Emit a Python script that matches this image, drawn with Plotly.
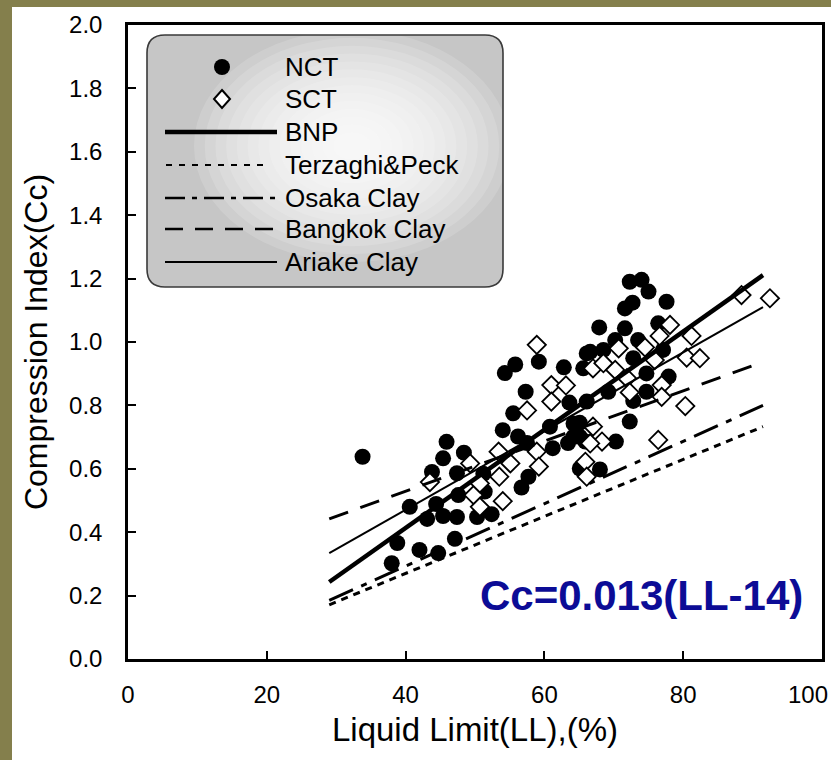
import plotly.graph_objects as go

# ---------------- data ----------------
nct_ll = [33.8, 38.0, 38.8, 40.6, 42.0, 43.1, 43.8, 44.7, 45.4, 45.9, 45.4, 44.4, 47.1, 47.4,
          47.4, 47.6, 48.4, 50.3, 51.2, 51.4, 52.4, 54.0, 54.3, 55.8, 55.5, 56.2, 56.7, 57.3,
          57.5, 57.7, 59.2, 60.8, 61.2, 62.8, 63.6, 64.2, 64.2, 65.1, 68.0, 66.1, 65.6, 66.6,
          67.9, 68.5, 69.2, 70.2, 70.3, 71.6, 71.6, 72.7, 72.3, 74.0, 75.0, 77.6, 72.3, 72.8,
          72.8, 73.5, 74.7, 74.7, 76.4, 77.9, 77.1, 66.1, 65.1, 65.9, 63.4, 65.1]
nct_cc = [0.638, 0.302, 0.366, 0.480, 0.344, 0.442, 0.590, 0.334, 0.633, 0.685, 0.451, 0.489,
          0.379, 0.448, 0.586, 0.517, 0.651, 0.448, 0.584, 0.528, 0.457, 0.722, 0.902, 0.929,
          0.775, 0.702, 0.541, 0.843, 0.681, 0.575, 0.938, 0.733, 0.665, 0.920, 0.809, 0.743,
          0.701, 0.601, 0.598, 0.964, 0.917, 0.969, 1.046, 0.975, 0.843, 1.006, 0.686, 1.043,
          1.106, 1.124, 1.190, 1.196, 1.159, 1.127, 0.749, 0.814, 0.949, 1.006, 0.901, 0.843,
          1.059, 0.891, 0.975, 0.812, 0.745, 0.686, 0.681, 0.701]

sct_ll = [43.5, 49.3, 49.8, 50.7, 50.7, 53.4, 53.5, 54.0, 55.1, 57.5, 58.9, 58.9, 59.2, 61.0,
          61.0, 63.1, 67.0, 68.5, 70.2, 70.7, 71.9, 72.3, 74.5, 75.9, 76.6, 76.9, 76.9, 78.1,
          80.5, 81.2, 82.4, 80.3, 76.4, 67.0, 68.3, 66.6, 65.9, 66.1, 88.4, 92.5]
sct_cc = [0.558, 0.617, 0.517, 0.554, 0.480, 0.654, 0.575, 0.498, 0.617, 0.784, 0.991, 0.654,
          0.607, 0.864, 0.812, 0.863, 0.917, 0.933, 0.912, 0.980, 0.886, 0.841, 0.983, 0.943,
          1.019, 0.864, 0.827, 1.054, 0.951, 1.019, 0.949, 0.798, 0.691, 0.733, 0.686, 0.680,
          0.622, 0.575, 1.148, 1.138]

line_ll = [29.0, 91.5]
bnp_cc = [0.243, 1.211]
terzaghi_cc = [0.171, 0.733]
osaka_cc = [0.185, 0.800]
bangkok_cc = [0.442, 0.937]
ariake_cc = [0.334, 1.110]

x_ticks = [0, 20, 40, 60, 80, 100]
y_ticks = [0.0, 0.2, 0.4, 0.6, 0.8, 1.0, 1.2, 1.4, 1.6, 1.8, 2.0]

legend_names = ["NCT", "SCT", "BNP", "Terzaghi&Peck", "Osaka Clay", "Bangkok Clay", "Ariake Clay"]

# ---------------- layout helpers ----------------
W, H = 831, 760
ML, MR, MT, MB = 128, 9, 25, 101
PW = W - ML - MR
PH = H - MT - MB


def px(x):
    return (x - ML) / PW


def py(y):
    return (H - MB - y) / PH


FONT = "Liberation Sans, Arial, sans-serif"

fig = go.Figure()

fig.add_trace(go.Scatter(x=nct_ll, y=nct_cc, mode="markers", name="NCT", showlegend=False,
                         marker=dict(symbol="circle", size=16, color="black")))
fig.add_trace(go.Scatter(x=sct_ll, y=sct_cc, mode="markers", name="SCT", showlegend=False,
                         marker=dict(symbol="diamond", size=14, color="white",
                                     line=dict(color="black", width=1.8))))

line_styles = [
    ("BNP", bnp_cc, dict(color="black", width=4.5)),
    ("Terzaghi&Peck", terzaghi_cc, dict(color="black", width=3, dash="7px,6px")),
    ("Osaka Clay", osaka_cc, dict(color="black", width=3, dash="26px,9px,6px,9px")),
    ("Bangkok Clay", bangkok_cc, dict(color="black", width=3, dash="20px,13px")),
    ("Ariake Clay", ariake_cc, dict(color="black", width=2)),
]
for nm, cc, ln in line_styles:
    fig.add_trace(go.Scatter(x=line_ll, y=cc, mode="lines", name=nm, showlegend=False, line=ln))

shapes = []
# white panel on olive background
shapes.append(dict(type="rect", xref="paper", yref="paper", layer="below",
                   x0=px(12), x1=px(840), y0=py(770), y1=py(7),
                   fillcolor="white", line=dict(width=0)))

# legend box (rounded, shaded)
bx0, bx1, by0, by1, r = 147, 503, 35, 287, 18


def rpath(x0, x1, y0, y1, r):
    return ("M{a},{b} L{c},{b} Q{x1},{b} {x1},{d} L{x1},{e} Q{x1},{f} {c},{f} "
            "L{a},{f} Q{x0},{f} {x0},{e} L{x0},{d} Q{x0},{b} {a},{b} Z").format(
        a=px(x0 + r), b=py(y0), c=px(x1 - r), x1=px(x1), d=py(y0 + r), e=py(y1 - r),
        f=py(y1), x0=px(x0))


shapes.append(dict(type="path", xref="paper", yref="paper", path=rpath(bx0, bx1, by0, by1, r),
                   fillcolor="#c6c6c6", line=dict(width=0)))
cx, cy = 352, 146
n_rings = 14
for i in range(n_rings):
    f = 1 - i / n_rings
    rx, ry = 150 * f + 8, 110 * f + 6
    shapes.append(dict(type="circle", xref="paper", yref="paper",
                       x0=px(cx - rx), x1=px(cx + rx), y0=py(cy + ry), y1=py(cy - ry),
                       fillcolor="white", opacity=0.15, line=dict(width=0)))
shapes.append(dict(type="path", xref="paper", yref="paper", path=rpath(bx0, bx1, by0, by1, r),
                   fillcolor="rgba(0,0,0,0)", line=dict(color="#3a3a3a", width=1.6)))

# legend samples
ly = [67, 99, 132, 165, 198, 229, 262]
shapes.append(dict(type="circle", xref="paper", yref="paper",
                   x0=px(214), x1=px(230), y0=py(ly[0] + 8), y1=py(ly[0] - 8),
                   fillcolor="black", line=dict(width=0)))
dx, dyy = 222, ly[1]
shapes.append(dict(type="path", xref="paper", yref="paper",
                   path="M{},{} L{},{} L{},{} L{},{} Z".format(px(dx), py(dyy - 9), px(dx + 8), py(dyy),
                                                                px(dx), py(dyy + 9), px(dx - 8), py(dyy)),
                   fillcolor="white", line=dict(color="black", width=2)))
leg_lines = [
    (ly[2], 165, 277, dict(color="black", width=4.5)),
    (ly[3], 166, 270, dict(color="black", width=2, dash="6px,7px")),
    (ly[4], 165, 277, dict(color="black", width=2.5, dash="20px,7px,5px,7px")),
    (ly[5], 165, 277, dict(color="black", width=2.5, dash="18px,12px")),
    (ly[6], 165, 277, dict(color="black", width=2)),
]
for yy, a, b, ln in leg_lines:
    shapes.append(dict(type="line", xref="paper", yref="paper",
                       x0=px(a), x1=px(b), y0=py(yy), y1=py(yy), line=ln))

annotations = []
for nm, yy in zip(legend_names, ly):
    annotations.append(dict(text=nm, xref="paper", yref="paper", x=px(283), y=py(yy),
                            xanchor="left", yanchor="middle", showarrow=False,
                            font=dict(family=FONT, size=26, color="black")))

annotations.append(dict(text="<b>Cc=0.013(LL-14)</b>", xref="paper", yref="paper",
                        x=px(805), y=py(595), xanchor="right", yanchor="middle", showarrow=False,
                        font=dict(family=FONT, size=42, color="#0c0c96")))

# last x tick label, kept inside the page (the reference shows it pressed against the right edge)
x_ticktext = [str(v) for v in x_ticks]
last_label = x_ticktext[-1]
x_ticktext[-1] = ""
annotations.append(dict(text=last_label, xref="paper", yref="paper", x=px(830), y=py(694),
                        xanchor="right", yanchor="middle", showarrow=False,
                        font=dict(family=FONT, size=24, color="black")))

fig.update_layout(
    width=W, height=H,
    margin=dict(l=ML, r=MR, t=MT, b=MB, pad=0, autoexpand=False),
    paper_bgcolor="#847f4c",
    plot_bgcolor="white",
    shapes=shapes,
    annotations=annotations,
    showlegend=False,
    xaxis=dict(range=[0, 100], tickvals=x_ticks, ticktext=x_ticktext,
               ticks="inside", ticklen=8, tickwidth=1.5, tickcolor="black",
               showline=True, linecolor="black", linewidth=2.5, mirror=True,
               showgrid=False, zeroline=False, ticklabelstandoff=12,
               automargin=False,
               tickfont=dict(family=FONT, size=24, color="black"),
               title=dict(text="Liquid Limit(LL),(%)", standoff=12,
                          font=dict(family=FONT, size=33, color="black"))),
    yaxis=dict(range=[0, 2], tickvals=y_ticks, ticktext=["%.1f" % v for v in y_ticks],
               ticks="inside", ticklen=8, tickwidth=1.5, tickcolor="black",
               showline=True, linecolor="black", linewidth=2.5, mirror=True,
               showgrid=False, zeroline=False, ticklabelstandoff=18,
               automargin=False,
               tickfont=dict(family=FONT, size=24, color="black"),
               title=dict(text="Compression Index(Cc)", standoff=12,
                          font=dict(family=FONT, size=32, color="black"))),
)

fig.write_html("out.html")
